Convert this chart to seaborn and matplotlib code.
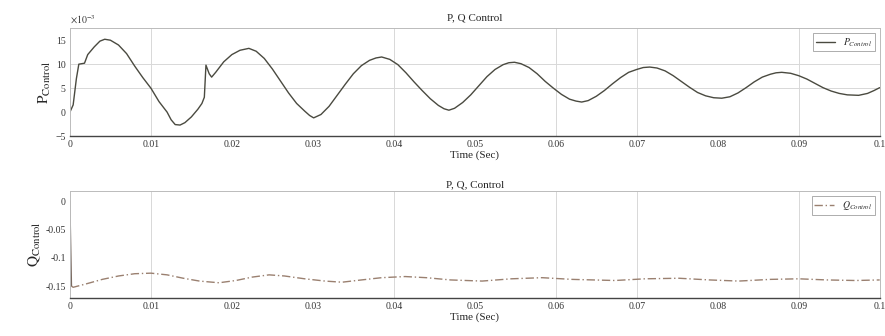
import matplotlib
matplotlib.use("Agg")
import matplotlib.pyplot as plt
import seaborn as sns
import pandas as pd

# ---- data ----
p_time = [0.0, 0.0004, 0.0008, 0.0011, 0.0018, 0.0022, 0.0030, 0.0037, 0.0043, 0.0050,
          0.0060, 0.0070, 0.0080, 0.0090, 0.0100, 0.0110, 0.0120, 0.0125, 0.0130, 0.0136,
          0.0142, 0.0150, 0.0158, 0.0163, 0.0166, 0.0168, 0.0172, 0.0175, 0.0180, 0.0190,
          0.0200, 0.0210, 0.0221, 0.0230, 0.0240, 0.0250, 0.0260, 0.0270, 0.0280, 0.0290,
          0.0296, 0.0301, 0.0310, 0.0320, 0.0330, 0.0340, 0.0350, 0.0360, 0.0370, 0.0378,
          0.0385, 0.0395, 0.0405, 0.0415, 0.0425, 0.0435, 0.0445, 0.0455, 0.0462, 0.0468,
          0.0475, 0.0485, 0.0495, 0.0505, 0.0515, 0.0525, 0.0535, 0.0542, 0.0549, 0.0557,
          0.0567, 0.0577, 0.0587, 0.0597, 0.0607, 0.0617, 0.0625, 0.0632, 0.0640, 0.0650,
          0.0660, 0.0670, 0.0680, 0.0690, 0.0700, 0.0708, 0.0716, 0.0725, 0.0735, 0.0745,
          0.0755, 0.0765, 0.0775, 0.0785, 0.0795, 0.0805, 0.0815, 0.0825, 0.0835, 0.0845,
          0.0855, 0.0865, 0.0872, 0.0879, 0.0890, 0.0900, 0.0910, 0.0920, 0.0930, 0.0940,
          0.0950, 0.0960, 0.0974, 0.0985, 0.0993, 0.1000]
p_control_e3 = [0.0, 1.5, 7.0, 10.0, 10.2, 12.0, 13.6, 14.8, 15.2, 15.0,
                14.0, 12.2, 9.6, 7.2, 5.0, 2.2, 0.0, -1.6, -2.6, -2.7,
                -2.2, -1.0, 0.6, 1.8, 3.1, 9.8, 8.0, 7.3, 8.3, 10.5,
                12.0, 12.9, 13.3, 12.7, 11.2, 9.0, 6.5, 4.0, 1.8, 0.2,
                -0.7, -1.2, -0.5, 1.2, 3.5, 5.8, 8.0, 9.7, 10.8, 11.3,
                11.5, 11.0, 9.9, 8.2, 6.3, 4.5, 2.8, 1.4, 0.7, 0.4,
                0.8, 2.0, 3.6, 5.5, 7.4, 8.9, 9.9, 10.3, 10.4, 10.1,
                9.3, 8.0, 6.4, 5.0, 3.7, 2.7, 2.3, 2.1, 2.4, 3.3,
                4.5, 5.9, 7.2, 8.3, 8.9, 9.3, 9.4, 9.2, 8.6, 7.6,
                6.4, 5.2, 4.1, 3.4, 3.0, 2.9, 3.2, 4.0, 5.1, 6.3,
                7.3, 7.9, 8.2, 8.3, 8.1, 7.6, 6.9, 6.0, 5.1, 4.4,
                3.9, 3.6, 3.5, 3.9, 4.5, 5.1]

q_time = [0.0, 0.0002, 0.0004, 0.0020, 0.0040, 0.0060, 0.0080, 0.0100, 0.0120, 0.0140,
          0.0160, 0.0184, 0.0205, 0.0225, 0.0246, 0.0265, 0.0290, 0.0315, 0.0336, 0.0360,
          0.0385, 0.0414, 0.0440, 0.0470, 0.0509, 0.0545, 0.0583, 0.0620, 0.0673, 0.0710,
          0.0752, 0.0790, 0.0826, 0.0865, 0.0900, 0.0935, 0.0970, 0.1000]
q_control = [0.0, -0.150, -0.152, -0.146, -0.138, -0.132, -0.128, -0.127, -0.130, -0.136,
             -0.141, -0.144, -0.140, -0.134, -0.130, -0.132, -0.137, -0.141, -0.143, -0.139,
             -0.135, -0.133, -0.135, -0.139, -0.141, -0.137, -0.135, -0.138, -0.140, -0.137,
             -0.136, -0.139, -0.141, -0.138, -0.137, -0.139, -0.140, -0.139]

x_ticks = [0, 0.01, 0.02, 0.03, 0.04, 0.05, 0.06, 0.07, 0.08, 0.09, 0.1]
x_tick_labels = ["0", "0.01", "0.02", "0.03", "0.04", "0.05", "0.06", "0.07", "0.08", "0.09", "0.1"]
p_ticks = [-5, 0, 5, 10, 15]
q_ticks = [-0.15, -0.1, -0.05, 0]
q_tick_labels = ["-0.15", "-0.1", "-0.05", "0"]

# ---- style ----
sns.set_theme(style="white")
plt.rcParams['font.family'] = ['Liberation Serif', 'DejaVu Serif']
plt.rcParams['mathtext.fontset'] = 'stix'

fig = plt.figure(figsize=(8.85, 3.36), dpi=100)
ax1 = fig.add_axes([0.079, 0.595, 0.915, 0.321])
ax2 = fig.add_axes([0.079, 0.113, 0.915, 0.318])

grid_kw = dict(color="#d8d8d8", lw=0.7, zorder=0)
vgrid = [0.01, 0.04, 0.06, 0.07, 0.09]

dfp = pd.DataFrame({"t": p_time, "p": p_control_e3})
sns.lineplot(data=dfp, x="t", y="p", ax=ax1, color="#4a4a40", lw=1.0,
             estimator=None, sort=False, label=r"$P_{Control}$")
for v in vgrid:
    ax1.axvline(v, **grid_kw)
for h in [5, 10]:
    ax1.axhline(h, **grid_kw)
ax1.set_xlim(0, 0.1)
ax1.set_ylim(-5, 17.5)
ax1.set_xticks(x_ticks)
ax1.set_xticklabels(x_tick_labels)
ax1.set_yticks(p_ticks)
ax1.set_ylabel(r"$\mathrm{P}_{\mathrm{Control}}$", fontsize=11, labelpad=2)
ax1.set_xlabel("Time (Sec)", fontsize=8, labelpad=1)
ax1.set_title("P, Q Control", fontsize=8, pad=6)
ax1.text(0.0, 1.02, r"$\times 10^{-3}$", transform=ax1.transAxes, fontsize=7,
         ha="left", va="bottom", color="#333333")

dfq = pd.DataFrame({"t": q_time, "q": q_control})
# initial vertical drop drawn solid, rest dash-dot
sns.lineplot(data=dfq.iloc[:2], x="t", y="q", ax=ax2, color="#7a6a60", lw=0.9,
             estimator=None, sort=False)
sns.lineplot(data=dfq.iloc[1:], x="t", y="q", ax=ax2, color="#9a8070", lw=1.0,
             estimator=None, sort=False, label=r"$Q_{Control}$")
ax2.lines[1].set_dashes([6, 2, 1, 2])
for v in vgrid:
    ax2.axvline(v, **grid_kw)
ax2.set_xlim(0, 0.1)
ax2.set_ylim(-0.171, 0.018)
ax2.set_xticks(x_ticks)
ax2.set_xticklabels(x_tick_labels)
ax2.set_yticks(q_ticks)
ax2.set_yticklabels(q_tick_labels)
ax2.set_ylabel(r"$\mathrm{Q}_{\mathrm{Control}}$", fontsize=11, labelpad=2)
ax2.set_xlabel("Time (Sec)", fontsize=8, labelpad=1)
ax2.set_title("P, Q, Control", fontsize=8, pad=3)

for ax in (ax1, ax2):
    ax.tick_params(axis="both", labelsize=7, length=2, direction="in", pad=3, colors="#333333")
    for s in ax.spines.values():
        s.set_color("#bbbbbb")
        s.set_linewidth(0.7)
    ax.spines["bottom"].set_color("#444444")
    ax.spines["bottom"].set_linewidth(1.0)
    leg = ax.legend(loc="upper right", fontsize=7, frameon=True, handlelength=2.0,
                    borderpad=0.3, fancybox=False, edgecolor="#888888")
    leg.get_frame().set_linewidth(0.6)

fig.savefig("out.png", dpi=100)
